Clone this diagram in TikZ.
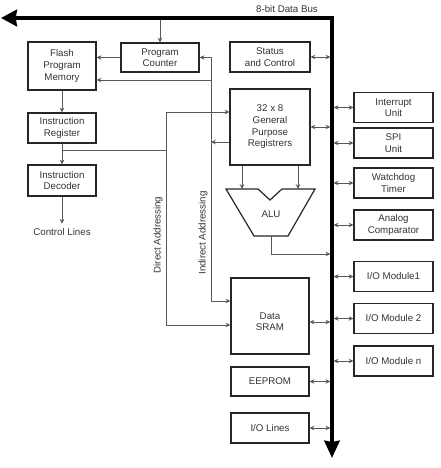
\documentclass[tikz,border=0pt]{standalone}
\usepackage{fontspec}
\setmainfont{Liberation Sans}
\usetikzlibrary{arrows.meta,positioning}

\begin{document}
\begin{tikzpicture}[x=0.75pt,y=-0.75pt,>={Stealth[length=3.6pt,width=3.4pt]},
    font=\fontsize{7.3}{8.7}\selectfont,
    blk/.style={draw=black!85,line width=0.9pt,align=center,text=black!80,
      minimum width=60pt,minimum height=22.5pt,inner sep=1pt},
    blkline/.style={draw=black!85,line width=0.9pt},
    wire/.style={draw=black!65,line width=0.6pt},
    dbl/.style={wire,<->},
    bus/.style={line width=2.5pt,line join=miter,
      {Stealth[length=12pt,width=12.5pt,inset=1pt]}-{Stealth[length=13pt,width=11.5pt,inset=1pt]}},
    lbl/.style={text=black!80,align=center}]
\useasboundingbox (0,0) rectangle (440,468);

% data bus
\coordinate (busL) at (1,18);
\coordinate (busC) at (332,18);
\coordinate (busE) at (332,458);
\draw[bus] (busL) -- (busC) -- (busE);
\node[lbl] (buslbl) at (287,9) {8-bit Data Bus};

% left column
\node[blk,minimum width=51pt,minimum height=36pt] (flash) at (62,66) {Flash\\Program\\Memory};
\node[blk,minimum width=58.5pt,minimum height=21.75pt] (pc) at (160,57.5) {Program\\Counter};
\node[blk,minimum width=51pt] (ir) at (62,128) {Instruction\\Register};
\node[blk,minimum width=51pt,minimum height=23.25pt] (dec) at (62,180.5) {Instruction\\Decoder};
\node[lbl] (ctl) at (62,232) {Control Lines};

% middle column
\node[blk] (stat) at (270,57) {Status\\and Control};
\node[blk,minimum height=57pt] (gpr) at (270,127) {32 x 8\\General\\Purpose\\Registrers};
\node[blk,minimum width=58.5pt,minimum height=57pt] (sram) at (270,316) {};
\node[lbl] (sramtxt) at (270,321.5) {Data\\SRAM};
\node[blk,minimum width=58.5pt,minimum height=21.75pt] (eeprom) at (270,381.5) {EEPROM};
\node[blk,minimum width=58.5pt] (iol) at (270,428) {I/O Lines};

% ALU
\draw[blkline] (226,189) -- (258,189) -- (270,200) -- (282,189) -- (315,189)
  -- (288,236) -- (254,236) -- cycle;
\node[lbl] (alu) at (271,214) {ALU};
\coordinate (aluinL) at (242,189);
\coordinate (aluinR) at (298,189);
\coordinate (aluout) at (271,236);
\coordinate (alubus) at (332,254);
\draw[wire,->] (gpr.south -| aluinL) -- (aluinL);
\draw[wire,->] (gpr.south -| aluinR) -- (aluinR);
\draw[wire,->,shorten >=1.25pt] (aluout) |- (alubus);

% right column
\foreach \n/\y/\t in {intr/107.5/{Interrupt\\Unit},spi/143/{SPI\\Unit},
    wdt/183/{Watchdog\\Timer},acmp/225/{Analog\\Comparator},
    iom1/276.5/{I/O Module1},iom2/318.5/{I/O Module 2},iomn/361/{I/O Module n}} {
  \node[blk,minimum width=59.25pt] (\n) at (393.5,\y) {\t};
  \draw[dbl,shorten <=1.25pt] (\n.west -| busC) -- (\n.west);
}

% bus links, middle column
\foreach \n in {stat,gpr,eeprom,iol}
  \draw[dbl,shorten >=1.25pt] (\n.east) -- (\n.east -| busC);
\coordinate (sramio) at ([yshift=-4.5pt]sram.east);
\draw[dbl,shorten >=1.25pt] (sramio) -- (sramio -| busC);

% program flow
\draw[wire,->,shorten <=1.25pt] (pc.north |- busC) -- (pc.north);
\draw[wire,->] (pc.west) -- (pc.west -| flash.east);
\draw[wire,->] (flash.south) -- (ir.north);
\draw[wire,->] (ir.south) -- (dec.north);
\draw[wire,->] (dec.south) -- (ctl.north);

% indirect addressing
\coordinate (indtop) at (211,57.5);
\coordinate (indbot) at (211,301);
\draw[wire,<->] (indbot -| sram.west) -- (indbot) -- (indtop) -- (pc.east);
\coordinate (flin) at ([yshift=-10.5pt]flash.east);
\draw[wire,->] (indtop |- flin) -- (flin);
\coordinate (gprind) at ([yshift=-11.25pt]gpr.west);
\draw[wire,->] (gprind) -- (gprind -| indtop);
\node[lbl,rotate=90] (indlbl) at (203,233) {Indirect Addressing};

% direct addressing
\coordinate (dirmid) at (166,150);
\coordinate (dirtop) at (166,112);
\coordinate (dirbot) at (166,325);
\draw[wire] (ir.south |- dirmid) -- (dirmid);
\draw[wire,<->] (dirtop -| gpr.west) -- (dirtop) -- (dirbot) -- (dirbot -| sram.west);
\node[lbl,rotate=90] (dirlbl) at (158,235) {Direct Addressing};
\end{tikzpicture}
\end{document}
